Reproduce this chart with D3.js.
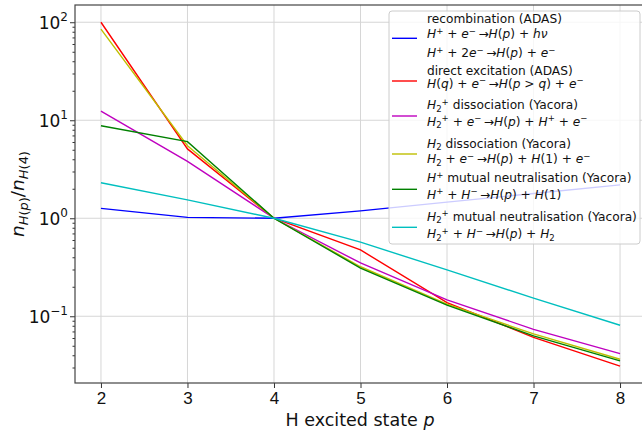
<!DOCTYPE html>
<html><head><meta charset="utf-8">
<script src="https://cdn.jsdelivr.net/npm/d3@7"></script>
<style>
html,body{margin:0;padding:0;background:#fff;}
svg{display:block;font-family:"DejaVu Sans",sans-serif;}
</style></head>
<body><svg id="c" width="642" height="437"></svg>
<script>
// ---- data ----
const states = [2, 3, 4, 5, 6, 7, 8];
const recombination = [1.26, 1.02, 1.0, 1.19, 1.46, 1.79, 2.19];
const directExcitation = [100, 5.1, 1.0, 0.475, 0.138, 0.061, 0.031];
const h2pDissociation = [12.4, 3.8, 1.0, 0.35, 0.147, 0.0736, 0.0415];
const h2Dissociation = [85, 5.5, 1.0, 0.32, 0.133, 0.066, 0.0364];
const hpMutualNeutralisation = [8.8, 6.05, 1.0, 0.31, 0.13, 0.063, 0.035];
const h2pMutualNeutralisation = [2.3, 1.54, 1.0, 0.57, 0.297, 0.153, 0.081];
const xTicks = [2, 3, 4, 5, 6, 7, 8];
const yTicks = [0.1, 1, 10, 100];
const yTickExp = ["\u22121", "0", "1", "2"];

const series = [
  {name: "recombination (ADAS)", eq: ["$H^+$ + $e^-$\u2009\u2192$H(p)$ + $h\u03bd$", "$H^+$ + 2$e^-$\u2009\u2192$H(p)$ + $e^-$"], values: recombination, color: "#0000ff"},
  {name: "direct excitation (ADAS)", eq: ["$H(q)$ + $e^-$\u2009\u2192$H(p$ > $q)$ + $e^-$"], values: directExcitation, color: "#ff0000"},
  {name: "$H_2{}^+$ dissociation (Yacora)", eq: ["$H_2{}^+$ + $e^-$\u2009\u2192$H(p)$ + $H^+$ + $e^-$"], values: h2pDissociation, color: "#bf00bf"},
  {name: "$H_2$ dissociation (Yacora)", eq: ["$H_2$ + $e^-$\u2009\u2192$H(p)$ + $H(1)$ + $e^-$"], values: h2Dissociation, color: "#bfbf00"},
  {name: "$H^+$ mutual neutralisation (Yacora)", eq: ["$H^+$ + $H^-$\u2009\u2192$H(p)$ + $H(1)$"], values: hpMutualNeutralisation, color: "#008000"},
  {name: "$H_2{}^+$ mutual neutralisation (Yacora)", eq: ["$H_2{}^+$ + $H^-$\u2009\u2192$H(p)$ + $H_2$"], values: h2pMutualNeutralisation, color: "#00bfbf"}
];

// ---- mini mathtext parser ----
function parse(s) {
  const out = [];
  let i = 0, math = false, buf = "";
  function flush(it, sh) { if (buf) { out.push({t: buf, it: it, sh: sh}); buf = ""; } }
  while (i < s.length) {
    const c = s[i];
    if (c === "$") { flush(false, 0); math = !math; i++; continue; }
    if (!math) { buf += c; i++; continue; }
    if (c === "^" || c === "_") {
      const sh = c === "^" ? 1 : -1;
      i++;
      let grp;
      if (s[i] === "{") { const j = s.indexOf("}", i); grp = s.slice(i + 1, j); i = j + 1; }
      else { grp = s[i]; i++; }
      if (grp === "-") grp = "\u2212";
      for (const g of grp) out.push({t: g, it: /[A-Za-z\u03b1-\u03c9]/.test(g), sh: sh});
      continue;
    }
    if (c === "{" || c === "}") { i++; continue; }
    out.push({t: c === "-" ? "\u2212" : c, it: /[A-Za-z\u03b1-\u03c9]/.test(c), sh: 0});
    i++;
  }
  flush(false, 0);
  return out;
}
function rich(textSel, s, fs) {
  const segs = parse(s);
  let cur = 0;
  segs.forEach(g => {
    const off = g.sh === 1 ? -0.38 * fs : g.sh === -1 ? 0.22 * fs : 0;
    textSel.append("tspan").text(g.t)
      .attr("dy", (off - cur).toFixed(2))
      .style("font-style", g.it ? "italic" : "normal")
      .style("font-size", (g.sh ? fs * 0.7 : fs) + "px");
    cur = off;
  });
}

// ---- layout ----
const svg = d3.select("#c");
const L = 75, R = 646, T = 5, B = 383;
const x = d3.scaleLinear().domain([1.7, 8.3]).range([L, R]);
const y = d3.scaleLog().domain([Math.pow(10, -1.681), Math.pow(10, 2.176)]).range([B, T]);

// grid
const grid = svg.append("g").attr("stroke", "#d6d6d6").attr("stroke-width", 1);
xTicks.forEach(t => grid.append("line").attr("x1", x(t)).attr("x2", x(t)).attr("y1", T).attr("y2", B));
yTicks.forEach(t => grid.append("line").attr("x1", L).attr("x2", R).attr("y1", y(t)).attr("y2", y(t)));

// lines
const line = d3.line().x((d, i) => x(states[i])).y(d => y(d));
series.forEach(s => {
  svg.append("path").datum(s.values).attr("d", line)
    .attr("fill", "none").attr("stroke", s.color).attr("stroke-width", 1.4);
});

// axes
const xAxis = d3.axisBottom(x).tickValues(xTicks).tickSize(5).tickPadding(4).tickFormat(d3.format("d"));
const gx = svg.append("g").attr("transform", `translate(0,${B})`).call(xAxis);
gx.select(".domain").remove();
gx.selectAll("text").style("font-size", "17px").attr("fill", "#111");
gx.selectAll("line").attr("stroke", "#333");

const yAxis = d3.axisLeft(y).tickValues(yTicks).tickSize(5).tickFormat(() => "");
const gy = svg.append("g").attr("transform", `translate(${L},0)`).call(yAxis);
gy.select(".domain").remove();
gy.selectAll("line").attr("stroke", "#333");
const minor = [];
for (let e = -2; e <= 2; e++) for (let m = 2; m <= 9; m++) {
  const v = m * Math.pow(10, e);
  if (v > y.domain()[0] && v < y.domain()[1]) minor.push(v);
}
const gyMinor = svg.append("g").attr("transform", `translate(${L},0)`)
  .call(d3.axisLeft(y).tickValues(minor).tickSize(2.5).tickFormat(() => ""));
gyMinor.select(".domain").remove();
gyMinor.selectAll("line").attr("stroke", "#333");

yTicks.forEach((t, i) => {
  const tx = svg.append("text").attr("x", L - 7).attr("y", y(t) + 6.5).attr("text-anchor", "end")
    .style("font-size", "17px").attr("fill", "#111");
  tx.append("tspan").text("10");
  tx.append("tspan").text(yTickExp[i]).attr("dy", -7.5).style("font-size", "12px");
});

// frame
svg.append("rect").attr("x", L).attr("y", T).attr("width", R - L).attr("height", B - T)
  .attr("fill", "none").attr("stroke", "#444").attr("stroke-width", 1.2);

// axis labels
const xl = svg.append("text").attr("x", 360).attr("y", 426).attr("text-anchor", "middle")
  .style("font-size", "17.5px").attr("fill", "#111");
rich(xl, "H excited state $p$", 17.5);

const yl = svg.append("text").attr("transform", `translate(24,${(T + B) / 2}) rotate(-90)`)
  .attr("text-anchor", "middle").style("font-size", "18.5px").attr("fill", "#111");
rich(yl, "$n_{H(p)}$/$n_{H(4)}$", 18.5);

// legend
const lg = svg.append("g");
lg.append("rect").attr("x", 389).attr("y", 11).attr("width", 251).attr("height", 233).attr("rx", 3)
  .attr("fill", "#fff").attr("fill-opacity", 0.8).attr("stroke", "#cccccc").attr("stroke-width", 1);
const lineY = [38.3, 81, 116, 154, 189.3, 227.3];
const baselines = [[23.3, 38.3, 57.3], [75, 88], [109.3, 125.7], [147.7, 163.3], [182.3, 199], [220.7, 238.3]];
const lfs = 12.2;
series.forEach((s, i) => {
  lg.append("line").attr("x1", 392).attr("x2", 417).attr("y1", lineY[i]).attr("y2", lineY[i])
    .attr("stroke", s.color).attr("stroke-width", 1.4);
  const texts = [s.name].concat(s.eq);
  texts.forEach((t, j) => {
    const te = lg.append("text").attr("x", 427).attr("y", baselines[i][j])
      .style("font-size", lfs + "px").attr("fill", "#111");
    rich(te, t, lfs);
  });
});
</script></body></html>
